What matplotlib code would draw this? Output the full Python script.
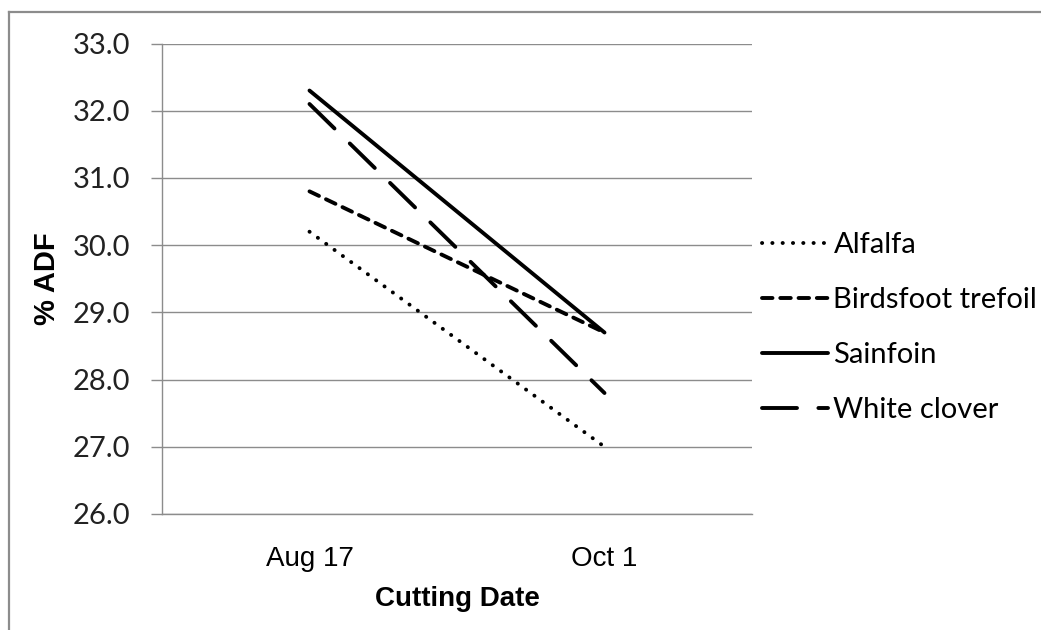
import matplotlib.pyplot as plt
from matplotlib.lines import Line2D

dates = ['Aug 17', 'Oct 1']
alfalfa = [30.2, 27.0]
birdsfoot = [30.8, 28.7]
sainfoin = [32.3, 28.7]
white_clover = [32.1, 27.8]

series = [
    ('Alfalfa', alfalfa, (0, (0.05, 2.6))),
    ('Birdsfoot trefoil', birdsfoot, (0, (2.7, 2.0))),
    ('Sainfoin', sainfoin, '-'),
    ('White clover', white_clover, (0, (9, 5.5))),
]

grey = '#8c8c8c'

fig = plt.figure(figsize=(10.41, 6.30), dpi=100)
ax = fig.add_axes([162 / 1041, 1 - 514 / 630, 590 / 1041, 470.5 / 630])

x = range(len(dates))
for name, vals, ls in series:
    ax.plot(x, vals, color='black', linewidth=2.8, linestyle=ls,
            dash_capstyle='round', solid_capstyle='round', label=name)

ax.set_xlim(-0.5, 1.5)
ax.set_ylim(26, 33)
ax.set_yticks([26, 27, 28, 29, 30, 31, 32, 33])
ax.set_yticklabels([f'{v:.1f}' for v in ax.get_yticks()],
                   family='Lato', fontsize=21, color='#222222')
ax.set_xticks(list(x))
ax.set_xticklabels(dates, family='Liberation Sans', fontsize=20)
ax.tick_params(axis='x', length=0, pad=23)
ax.tick_params(axis='y', length=8, width=1, color=grey, pad=15)

ax.yaxis.grid(True, color=grey, linewidth=1)
ax.set_axisbelow(True)
for s in ['top', 'right']:
    ax.spines[s].set_visible(False)
for s in ['left', 'bottom']:
    ax.spines[s].set_color(grey)
    ax.spines[s].set_linewidth(1)

ax.set_xlabel('Cutting Date', family='Liberation Sans', fontweight='bold', fontsize=20)
ax.xaxis.set_label_coords(0.5, -0.152)
ax.set_ylabel('% ADF', family='Liberation Sans', fontweight='bold', fontsize=21)
ax.yaxis.set_label_coords(-0.172, 0.5)

leg = ax.legend(loc='center left', bbox_to_anchor=(1.017, 0.396), frameon=False,
                prop={'family': 'Lato', 'size': 21}, handlelength=2.25,
                handletextpad=0.2, labelspacing=1.0, borderpad=0, borderaxespad=0)

# outer chart border (top and left edges visible)
fig.add_artist(Line2D([9 / 1041, 9 / 1041], [0, 1 - 12 / 630], color=grey, linewidth=1.6))
fig.add_artist(Line2D([9 / 1041, 1], [1 - 12 / 630, 1 - 12 / 630], color=grey, linewidth=1.6))

fig.savefig('out.png', dpi=100)
